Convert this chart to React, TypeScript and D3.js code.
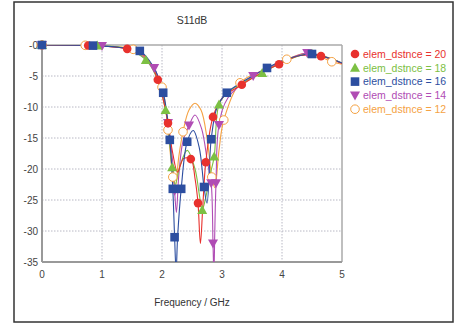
import React from 'react'
import * as d3 from 'd3'

// S11 (dB) vs frequency, one array per element distance
const labels = ['elem_dstnce = 20', 'elem_dstnce = 18', 'elem_dstnce = 16', 'elem_dstnce = 14', 'elem_dstnce = 12']
const colors = ['#e8312d', '#7cc043', '#2c4ea0', '#b04cb4', '#f5a243']
const shapes = ['circle', 'triangle', 'square', 'triangleDown', 'open']

const xTicks = [0, 1, 2, 3, 4, 5]
const yTicks = [0, -5, -10, -15, -20, -25, -30, -35]

const s20 = [
  [0, 0], [0.77, -0.08], [1.1, -0.25], [1.42, -0.62], [1.62, -1.1], [1.78, -2.6], [1.93, -5.6],
  [2.02, -8.8], [2.1, -12.6], [2.18, -17.5], [2.26, -20.5], [2.36, -18.3], [2.48, -18.4],
  [2.55, -21.5], [2.6, -25.5], [2.64, -32], [2.68, -26], [2.73, -18.9], [2.85, -11.6],
  [3.0, -8.6], [3.33, -6.4], [3.65, -4.5], [3.95, -3.1], [4.3, -1.7], [4.65, -1.8], [5, -3],
]
const m20 = [0, 1, 3, 6, 8, 12, 14, 17, 18, 20, 22, 24]

const s18 = [
  [0, 0], [0.92, -0.1], [1.4, -0.55], [1.73, -2.4], [1.9, -5], [2.06, -10.5], [2.17, -19.7],
  [2.22, -22.5], [2.3, -19.5], [2.42, -17], [2.55, -20], [2.62, -24], [2.67, -26.6],
  [2.72, -25], [2.8, -21], [2.87, -18], [2.95, -9.6], [3.1, -7.6], [3.67, -4.5],
  [4.1, -2.4], [4.5, -1.4], [5, -2.9],
]
const m18 = [0, 1, 3, 5, 6, 12, 15, 16, 18, 20]

const s16 = [
  [0, 0], [0.85, -0.1], [1.3, -0.4], [1.63, -0.95], [1.85, -3.4], [2.02, -7.7], [2.13, -15.3],
  [2.18, -23.2], [2.21, -31], [2.235, -36.5], [2.26, -31], [2.32, -23.2], [2.42, -15.6],
  [2.52, -13.8], [2.62, -16.5], [2.7, -22.9], [2.75, -25.5], [2.82, -15.2], [2.92, -10],
  [3.08, -7.7], [3.4, -5.6], [3.75, -3.7], [4.1, -2.2], [4.5, -1.45], [4.8, -2.2], [5, -2.9],
]
const m16 = [0, 1, 3, 5, 6, 7, 8, 11, 12, 15, 17, 19, 21, 23]

const s14 = [
  [0, 0], [1.0, -0.15], [1.45, -0.7], [1.7, -2], [1.87, -3.7], [2.0, -7.2], [2.1, -12.6],
  [2.18, -19], [2.21, -23.5], [2.24, -27], [2.28, -21], [2.35, -15.5], [2.45, -13],
  [2.55, -11.3], [2.66, -13.5], [2.76, -19], [2.82, -22.3], [2.85, -32], [2.865, -37],
  [2.88, -30], [2.9, -22.3], [2.95, -12.9], [3.1, -8.5], [3.52, -5], [4.0, -2.8],
  [4.42, -1.3], [5, -2.9],
]
const m14 = [0, 1, 4, 6, 8, 12, 16, 17, 20, 21, 23, 25]

const s12 = [
  [0, 0], [0.72, -0.05], [1.1, -0.25], [1.52, -0.7], [1.78, -2.8], [2.0, -6.8], [2.1, -13.7],
  [2.18, -21.3], [2.22, -23], [2.28, -18], [2.35, -14], [2.45, -10.5], [2.55, -9.4],
  [2.65, -10.5], [2.75, -15], [2.83, -21.3], [2.88, -23], [2.95, -17], [3.03, -12.1],
  [3.3, -6.1], [3.7, -4], [4.08, -2.3], [4.45, -1.3], [4.83, -2.7], [5, -3.1],
]
const m12 = [0, 1, 3, 5, 6, 7, 10, 15, 18, 19, 21, 23]

const series = [s20, s18, s16, s14, s12]
const marks = [m20, m18, m16, m14, m12]

const W = 460
const H = 326
const M = { left: 42, right: 342, top: 45, bottom: 262 }

function Marker({ shape, x, y, color }: { shape: string; x: number; y: number; color: string }) {
  if (shape === 'circle') return <circle cx={x} cy={y} r={4.3} fill={color} />
  if (shape === 'open') return <circle cx={x} cy={y} r={4.3} fill="#fff" stroke={color} strokeWidth={1} />
  if (shape === 'square') return <rect x={x - 4.3} y={y - 4.3} width={8.6} height={8.6} fill={color} />
  if (shape === 'triangle')
    return <path d={`M${x},${y - 5} L${x + 5},${y + 4} L${x - 5},${y + 4} Z`} fill={color} />
  return <path d={`M${x},${y + 5} L${x + 5},${y - 4} L${x - 5},${y - 4} Z`} fill={color} />
}

export default function App() {
  const x = d3.scaleLinear().domain([0, 5]).range([M.left, M.right])
  const y = d3.scaleLinear().domain([0, -35]).range([M.top, M.bottom])
  const line = d3
    .line<number[]>()
    .x((d) => x(d[0]))
    .y((d) => y(d[1]))
    .curve(d3.curveCatmullRom.alpha(0.5))

  const order = [4, 3, 1, 0, 2]
  const font = 'Liberation Sans, Arial, sans-serif'

  return (
    <svg width={W} height={H} style={{ position: 'absolute', left: 0, top: 0 }} fontFamily={font}>
      <rect x={0} y={0} width={W} height={H} fill="#fff" />
      <rect x={14} y={2} width={439} height={320} fill="#fff" stroke="#333" strokeWidth={1.5} />
      <defs>
        <clipPath id="plot">
          <rect x={M.left} y={M.top} width={M.right - M.left} height={M.bottom - M.top} />
        </clipPath>
      </defs>

      <text x={(M.left + M.right) / 2} y={24} textAnchor="middle" fontSize={10.5} fill="#333">
        S11dB
      </text>

      {/* grid */}
      {xTicks.slice(1, -1).map((t) => (
        <line key={'gx' + t} x1={x(t)} x2={x(t)} y1={M.top} y2={M.bottom} stroke="#b8b8c4" strokeDasharray="1.5,1.5" />
      ))}
      {yTicks.slice(1, -1).map((t) => (
        <line key={'gy' + t} x1={M.left} x2={M.right} y1={y(t)} y2={y(t)} stroke="#b8b8c4" strokeDasharray="1.5,1.5" />
      ))}
      <line x1={M.left} x2={M.right} y1={M.top} y2={M.top} stroke="#aaa" strokeWidth={1.5} />
      <line x1={M.right} x2={M.right} y1={M.top} y2={M.bottom} stroke="#aaa" strokeWidth={1.5} />
      <line x1={M.left} x2={M.left} y1={M.top} y2={M.bottom} stroke="#999" strokeWidth={2} />
      <line x1={M.left} x2={M.right} y1={M.bottom} y2={M.bottom} stroke="#999" strokeWidth={2} />

      {/* tick labels */}
      {yTicks.map((t) => (
        <text key={'ty' + t} x={M.left - 4} y={y(t) + 3.5} textAnchor="end" fontSize={10} fill="#444">
          {'-' + Math.abs(t)}
        </text>
      ))}
      {xTicks.map((t) => (
        <text key={'tx' + t} x={x(t)} y={M.bottom + 16} textAnchor="middle" fontSize={10} fill="#444">
          {t}
        </text>
      ))}
      <text x={(M.left + M.right) / 2} y={306} textAnchor="middle" fontSize={10} fill="#333">
        Frequency / GHz
      </text>

      {/* curves */}
      <g clipPath="url(#plot)">
        {order.map((i) => (
          <path key={'l' + i} d={line(series[i]) || ''} fill="none" stroke={colors[i]} strokeWidth={1.1} />
        ))}
      </g>
      {order.map((i) => (
        <g key={'m' + i}>
          {marks[i].map((k) => (
            <Marker key={k} shape={shapes[i]} x={x(series[i][k][0])} y={y(series[i][k][1])} color={colors[i]} />
          ))}
        </g>
      ))}

      {/* legend */}
      {labels.map((lab, i) => (
        <g key={'lg' + i} transform={`translate(355, ${54 + i * 13.8})`}>
          <Marker shape={shapes[i]} x={0} y={0} color={colors[i]} />
          <text x={8} y={3.8} fontSize={10.5} fill={colors[i]}>
            {lab}
          </text>
        </g>
      ))}
    </svg>
  )
}
